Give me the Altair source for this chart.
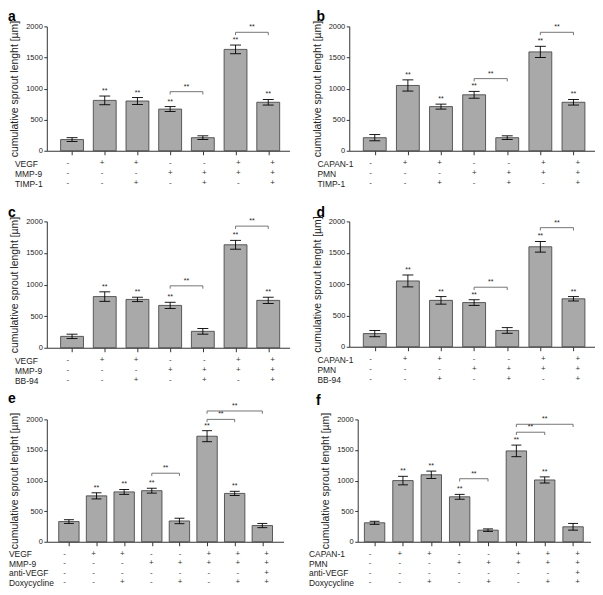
import altair as alt
import pandas as pd

FONT = "Liberation Sans"
TXT = "#222222"
AX = "#333333"
BAR = "#a9a9a9"
EDGE = "#3a3a3a"
Y_TITLE = "cumulative sprout lenght [µm]"
Y_TICKS = [0, 500, 1000, 1500, 2000]

# ---------------- panel a ----------------
a_means = [180, 810, 800, 670, 210, 1630, 780]
a_errs = [30, 70, 55, 40, 30, 70, 45]
a_stars = [0, 1, 1, 1, 0, 1, 1]
a_brackets = [[4, 5, 950], [6, 7, 1905]]
a_rows = ["VEGF", "MMP-9", "TIMP-1"]
a_signs = [["-", "+", "+", "-", "-", "+", "+"],
           ["-", "-", "-", "+", "+", "+", "+"],
           ["-", "-", "+", "-", "+", "-", "+"]]

# ---------------- panel b ----------------
b_means = [210, 1050, 710, 900, 210, 1590, 780]
b_errs = [50, 90, 40, 55, 30, 90, 45]
b_stars = [0, 1, 1, 1, 0, 1, 1]
b_brackets = [[4, 5, 1160], [6, 7, 1905]]
b_rows = ["CAPAN-1", "PMN", "TIMP-1"]
b_signs = [["-", "+", "+", "-", "-", "+", "+"],
           ["-", "-", "-", "+", "+", "+", "+"],
           ["-", "-", "+", "-", "+", "-", "+"]]

# ---------------- panel c ----------------
c_means = [180, 810, 765, 670, 260, 1630, 750]
c_errs = [35, 75, 35, 50, 45, 70, 50]
c_stars = [0, 1, 1, 1, 0, 1, 1]
c_brackets = [[4, 5, 980], [6, 7, 1925]]
c_rows = ["VEGF", "MMP-9", "BB-94"]
c_signs = [["-", "+", "+", "-", "-", "+", "+"],
           ["-", "-", "-", "+", "+", "+", "+"],
           ["-", "-", "+", "-", "+", "-", "+"]]

# ---------------- panel d ----------------
d_means = [210, 1050, 740, 705, 260, 1595, 765]
d_errs = [50, 95, 60, 45, 45, 85, 35]
d_stars = [0, 1, 1, 1, 0, 1, 1]
d_brackets = [[4, 5, 950], [6, 7, 1900]]
d_rows = ["CAPAN-1", "PMN", "BB-94"]
d_signs = [["-", "+", "+", "-", "-", "+", "+"],
           ["-", "-", "-", "+", "+", "+", "+"],
           ["-", "-", "+", "-", "+", "-", "+"]]

# ---------------- panel e ----------------
e_means = [330, 750, 815, 835, 340, 1725, 790, 265]
e_errs = [30, 50, 40, 40, 45, 90, 35, 35]
e_stars = [0, 1, 1, 1, 0, 1, 1, 0]
e_brackets = [[4, 5, 1120], [6, 7, 2000], [6, 8, 2137]]
e_rows = ["VEGF", "MMP-9", "anti-VEGF", "Doxycycline"]
e_signs = [["-", "+", "+", "-", "-", "+", "+", "+"],
           ["-", "-", "-", "+", "+", "+", "+", "+"],
           ["-", "-", "-", "-", "-", "-", "-", "+"],
           ["-", "-", "+", "-", "+", "-", "+", "+"]]

# ---------------- panel f ----------------
f_means = [310, 1000, 1095, 735, 190, 1485, 1010, 245]
f_errs = [25, 70, 60, 40, 20, 95, 50, 55]
f_stars = [0, 1, 1, 1, 0, 1, 1, 0]
f_brackets = [[4, 5, 1030], [6, 7, 1790], [6, 8, 1920]]
f_rows = ["CAPAN-1", "PMN", "anti-VEGF", "Doxycycline"]
f_signs = [["-", "+", "+", "-", "-", "+", "+", "+"],
           ["-", "-", "-", "+", "+", "+", "+", "+"],
           ["-", "-", "-", "-", "-", "-", "-", "+"],
           ["-", "-", "+", "-", "+", "-", "+", "+"]]


def make_panel(letter, means, errs, stars, brackets, rows, signs,
               width, height, xdom, bar_w, cap_w, lab_pad, title_dx,
               title_off=-4, row_step=10, gap=7.5):
    n = len(means)
    idx = list(range(1, n + 1))
    df = pd.DataFrame({
        "i": idx,
        "mean": means,
        "lo": [m - e for m, e in zip(means, errs)],
        "hi": [m + e for m, e in zip(means, errs)],
        "star": ["**" if s else "" for s in stars],
    })
    bdf = pd.DataFrame(brackets, columns=["a", "b", "h"])
    bdf["mid"] = (bdf["a"] + bdf["b"]) / 2
    bdf["low"] = bdf["h"] - 45
    bdf["txt"] = "**"

    xs = alt.Scale(domain=xdom, nice=False, zero=False)
    xa = alt.Axis(values=idx, labels=False, title=None, grid=False,
                  tickSize=4, domainColor=AX, tickColor=AX)
    ys = alt.Scale(domain=[0, 2000], nice=False)
    ya = alt.Axis(values=Y_TICKS, format="d", title=Y_TITLE, grid=False, tickSize=3,
                  labelPadding=1.5, titlePadding=6, titleFontSize=10.5,
                  titleFontWeight="normal", titleColor=TXT)

    def X(f):
        return alt.X(f, type="quantitative", scale=xs, axis=xa)

    def Y(f):
        return alt.Y(f, type="quantitative", scale=ys, axis=ya)

    base = alt.Chart(df)
    bars = base.mark_bar(size=bar_w, fill=BAR, stroke=EDGE, strokeWidth=0.8).encode(
        x=X("i"), y=Y("mean"))
    err = base.mark_rule(color="black", strokeWidth=0.9).encode(
        x=X("i"), y=Y("lo"), y2="hi")
    cap_hi = base.mark_tick(orient="horizontal", size=cap_w, thickness=0.9,
                            color="black", opacity=1).encode(x=X("i"), y=Y("hi"))
    cap_lo = base.mark_tick(orient="horizontal", size=cap_w, thickness=0.9,
                            color="black", opacity=1).encode(x=X("i"), y=Y("lo"))
    st = base.transform_filter("datum.star != ''").mark_text(
        fontSize=7, baseline="bottom", dy=-2, color=TXT, font=FONT).encode(
        x=X("i"), y=Y("hi"), text="star:N")

    bb = alt.Chart(bdf)
    b_line = bb.mark_rule(color="#666666", strokeWidth=0.9).encode(
        x=X("a"), x2="b", y=Y("h"))
    b_left = bb.mark_rule(color="#666666", strokeWidth=0.9).encode(
        x=X("a"), y=Y("h"), y2="low")
    b_right = bb.mark_rule(color="#666666", strokeWidth=0.9).encode(
        x=X("b"), y=Y("h"), y2="low")
    b_txt = bb.mark_text(fontSize=7, baseline="bottom", dy=-2, color=TXT, font=FONT).encode(
        x=X("mid"), y=Y("h"), text="txt:N")

    top = alt.layer(bars, err, cap_hi, cap_lo, st, b_line, b_left, b_right, b_txt).properties(
        width=width, height=height,
        title=alt.TitleParams(text=letter, anchor="start", frame="group", dx=title_dx,
                              fontSize=14, fontWeight="bold", font=FONT, color="black",
                              offset=title_off))

    recs = []
    for k, r in enumerate(rows):
        for j in range(n):
            recs.append({"i": j + 1, "row": r, "sign": signs[k][j]})
    tdf = pd.DataFrame(recs)
    table = alt.Chart(tdf).mark_text(fontSize=8, color="#333333", font=FONT).encode(
        x=alt.X("i:Q", scale=xs, axis=None),
        y=alt.Y("row:N", sort=rows,
                axis=alt.Axis(title=None, domain=False, ticks=False, labelAlign="left",
                              labelPadding=lab_pad, labelFontSize=8.5, labelFont=FONT,
                              labelColor=TXT)),
        text="sign:N",
    ).properties(width=width, height=row_step * len(rows))
    return alt.vconcat(top, table, spacing=gap, bounds="flush")


pa = make_panel("a", a_means, a_errs, a_stars, a_brackets, a_rows, a_signs,
                244, 125, [0.38, 7.5], 23, 11, 32.5, -39)
pb = make_panel("b", b_means, b_errs, b_stars, b_brackets, b_rows, b_signs,
                247, 125, [0.38, 7.5], 23, 11, 32.5, -33)
pc = make_panel("c", c_means, c_errs, c_stars, c_brackets, c_rows, c_signs,
                244, 127, [0.38, 7.5], 23, 11, 32.5, -39)
pd_ = make_panel("d", d_means, d_errs, d_stars, d_brackets, d_rows, d_signs,
                 247, 126, [0.38, 7.5], 23, 11, 32.5, -33)
pe = make_panel("e", e_means, e_errs, e_stars, e_brackets, e_rows, e_signs,
                238, 123, [0.38, 8.59], 20.5, 10, 38.5, -39,
                title_off=-4, row_step=9.7, gap=7)
pf = make_panel("f", f_means, f_errs, f_stars, f_brackets, f_rows, f_signs,
                234, 123, [0.58, 8.44], 20.5, 10, 49.5, -42,
                title_off=4, row_step=9.7, gap=7)

row1 = alt.hconcat(pa, pb, spacing=22)
row2 = alt.hconcat(pc, pd_, spacing=22)
row3 = alt.hconcat(pe, pf, spacing=24.5)

chart = alt.vconcat(
    alt.vconcat(row1, row2, spacing=17),
    row3,
    spacing=6,
).properties(padding=0).configure_view(stroke=None).configure_axis(
    labelFont=FONT, titleFont=FONT, labelFontSize=7.5, labelColor=TXT,
    domainColor=AX, tickColor=AX, domainWidth=1, tickWidth=1,
)

chart.save("out.html", embed_options={"renderer": "svg", "actions": False})
